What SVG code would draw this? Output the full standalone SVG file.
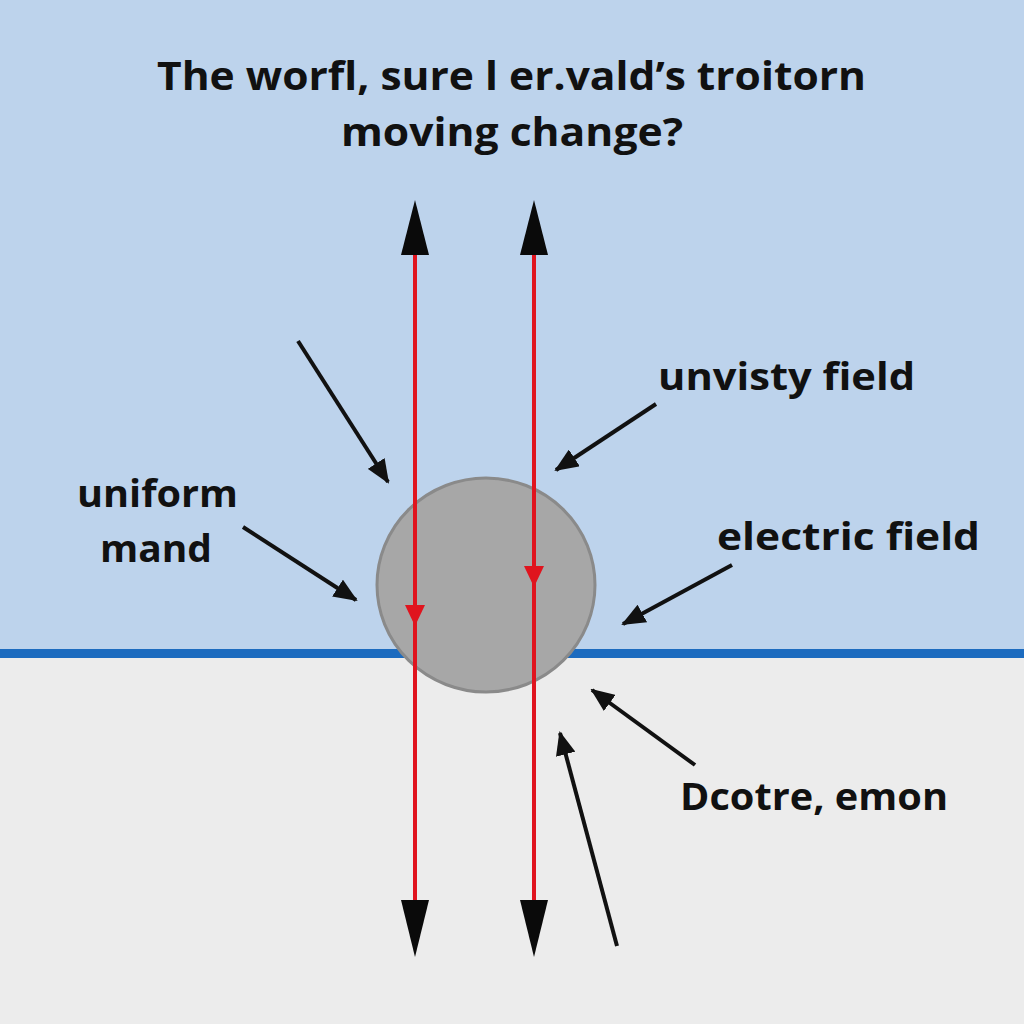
<svg xmlns="http://www.w3.org/2000/svg" width="1024" height="1024" viewBox="0 0 1024 1024">
<defs>
<style>
.t{font-family:"Open Sans","DejaVu Sans",sans-serif;font-weight:700;fill:#111;}
.red{stroke:#e0141e;stroke-width:4;fill:none;}
.bh{fill:#0a0a0a;}
.rh{fill:#e0141e;}
.ptr{stroke:#111;stroke-width:4;marker-end:url(#ah2);}
</style>
<marker id="ah2" viewBox="0 0 24 20" refX="22" refY="10" markerWidth="24" markerHeight="20" orient="auto" markerUnits="userSpaceOnUse">
<path d="M0,0 L24,10 L0,20 z" fill="#111"/>
</marker>
</defs>
<rect x="0" y="0" width="1024" height="652" fill="#bdd3ec"/>
<rect x="0" y="652" width="1024" height="372" fill="#ececec"/>
<rect x="0" y="649" width="1024" height="9" fill="#1c6bbf"/>
<g id="title">
<text class="t" x="157" y="90" font-size="40" textLength="709" lengthAdjust="spacingAndGlyphs">The worfl, sure l er.vald’s troitorn</text>
<text class="t" x="341" y="146" font-size="40" textLength="342" lengthAdjust="spacingAndGlyphs">moving change?</text>
</g>
<g id="charge">
<ellipse cx="486" cy="585" rx="109" ry="107" fill="#a7a7a7" stroke="#8a8a8a" stroke-width="3"/>
</g>
<g id="connectors">
<line class="red" x1="415" y1="250" x2="415" y2="905"/>
<line class="red" x1="534" y1="250" x2="534" y2="905"/>
<polygon class="bh" points="415,200 401,255 429,255"/>
<polygon class="bh" points="534,200 520,255 548,255"/>
<polygon class="bh" points="415,957 401,900 429,900"/>
<polygon class="bh" points="534,957 520,900 548,900"/>
<polygon class="rh" points="415,626 405,605 425,605"/>
<polygon class="rh" points="534,587 524,566 544,566"/>
<line class="ptr" x1="298" y1="341" x2="388" y2="482"/>
<line class="ptr" x1="656" y1="404" x2="556" y2="470"/>
<line class="ptr" x1="243" y1="527" x2="356" y2="600"/>
<line class="ptr" x1="732" y1="565" x2="623" y2="624"/>
<line class="ptr" x1="695" y1="765" x2="592" y2="690"/>
<line class="ptr" x1="617" y1="946" x2="560" y2="733"/>
</g>
<g id="label-unvisty">
<text class="t" x="658" y="390" font-size="38" textLength="257" lengthAdjust="spacingAndGlyphs">unvisty field</text>
</g>
<g id="label-uniform">
<text class="t" x="77" y="507" font-size="38" textLength="161" lengthAdjust="spacingAndGlyphs">uniform</text>
<text class="t" x="100" y="562" font-size="38" textLength="112" lengthAdjust="spacingAndGlyphs">mand</text>
</g>
<g id="label-electric">
<text class="t" x="717" y="550" font-size="38" textLength="263" lengthAdjust="spacingAndGlyphs">electric field</text>
</g>
<g id="label-dcotre">
<text class="t" x="680" y="810" font-size="38" textLength="268" lengthAdjust="spacingAndGlyphs">Dcotre, emon</text>
</g>
</svg>
